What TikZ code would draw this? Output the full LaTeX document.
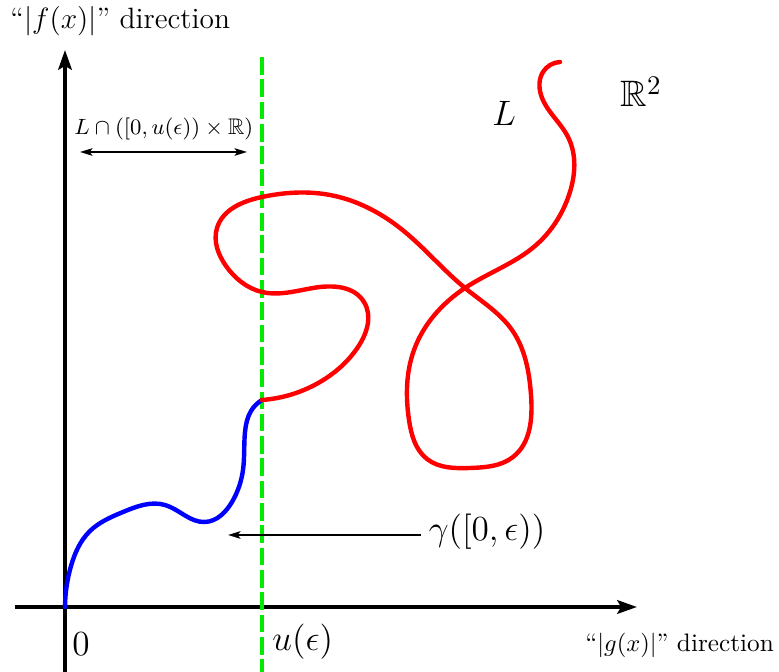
\documentclass[tikz,border=0pt]{standalone}
\usepackage{amssymb}
\usetikzlibrary{arrows.meta,hobby}
\definecolor{cutgreen}{RGB}{0,235,0}
\tikzset{
    axis/.style={line width=1.6pt, -{Stealth[length=8pt, width=5.5pt, inset=1.5pt]}},
    pointer/.style={line width=1pt, -{Stealth[length=5pt, width=3pt, inset=1pt]}},
    pathcurve/.style={line width=1.8pt, line cap=round, line join=round},
    lbl/.style={anchor=base west, inner sep=0pt},
}
\begin{document}
\begin{tikzpicture}[x=0.408pt, y=-0.408pt]
    \useasboundingbox (0,0) rectangle (779,672);

    % Axes
    \coordinate (origin) at (65,607);
    \coordinate (ybot) at (65,672);
    \coordinate (ytip) at (65,50);
    \coordinate (xleft) at (15,607);
    \coordinate (xtip) at (637,607);
    \draw[axis] (ybot) -- (ytip);
    \draw[axis] (xleft) -- (xtip);
    \node[lbl, font=\fontsize{12}{14}\selectfont] (ylabel) at (10,29) {``$|f(x)|$'' direction};
    \node[lbl, font=\fontsize{10.3}{12}\selectfont] (xlabel) at (585,652) {``$|g(x)|$'' direction};
    \node[lbl, font=\fontsize{14.4}{17}\selectfont] (zero) at (72,656) {$0$};

    % Cut at u(eps)
    \coordinate (utop) at (262,57);
    \coordinate (ubot) at (262,672);
    \draw[cutgreen, line width=1.3pt, dash pattern=on 7.2pt off 1.9pt] (utop) -- (ubot);
    \node[lbl, font=\fontsize{14.4}{17}\selectfont] (ueps) at (272,651) {$u(\epsilon)$};

    % Part of L left of the cut
    \node[lbl, font=\fontsize{9.2}{11}\selectfont] (cutlabel) at (74,135) {$L\cap([0,u(\epsilon))\times\mathbb{R})$};
    \coordinate (spanl) at (80,152);
    \coordinate (spanr) at (247,152);
    \draw[line width=0.9pt, {Stealth[length=5pt, width=3pt, inset=1pt]}-{Stealth[length=5pt, width=3pt, inset=1pt]}] (spanl) -- (spanr);

    % Curve L
    \coordinate (join) at (262,400);
    \coordinate (Lend) at (560,62);
    \draw[pathcurve, blue] (origin) to[curve through={(71,566) (90,531) (123,512)
        (165,505) (205,522) (232,502) (243,470) (245,432) (251,411)}] (join);
    \draw[pathcurve, red] (join) to[curve through={(320,382) (358,347) (364,302)
        (313,288) (262,292) (226,266) (217,228) (262,197) (330,195) (400,228)
        (465,288) (512,330) (531,395) (513,457) (470,468) (427,459) (409,420)
        (414,350) (465,288) (535,246) (569,195) (568,137) (541,95) (543,72)}] (Lend);
    \node[lbl, font=\fontsize{14}{17}\selectfont] (Llabel) at (492,126) {$L$};
    \node[lbl, font=\fontsize{15}{18}\selectfont] (plane) at (620,107) {$\mathbb{R}^2$};

    % Initial piece gamma
    \node[font=\fontsize{15}{18}\selectfont, inner sep=3pt] (gamma) at (487,532) {$\gamma([0,\epsilon))$};
    \coordinate (gammatip) at (228,535);
    \draw[pointer] (gamma.west |- gammatip) -- (gammatip);
\end{tikzpicture}
\end{document}
